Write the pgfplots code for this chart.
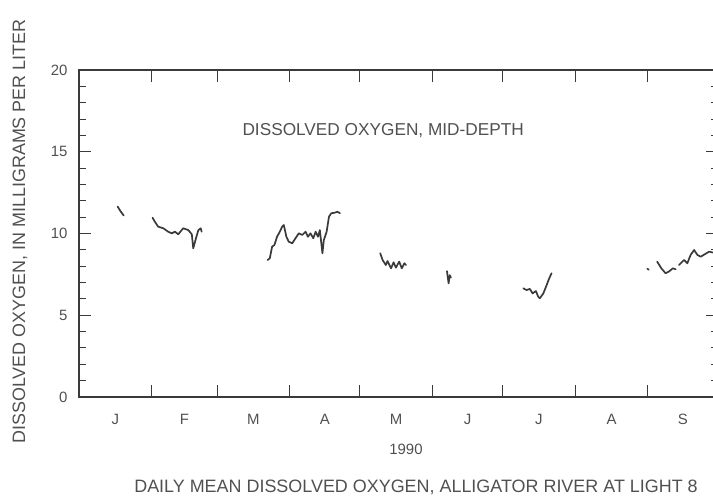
\documentclass[border=0pt]{standalone}
\usepackage{fontspec}
\setmainfont{Liberation Sans}
\usepackage{pgfplots}
\pgfplotsset{compat=1.18}
\definecolor{ink}{HTML}{3A3A3A}
\definecolor{txt}{HTML}{505050}

\begin{document}
\begin{tikzpicture}
  % page = 713 x 496 bp, axis box starts 79 bp from the left, 99 bp from the bottom
  \path[use as bounding box] (-79bp,-99bp) rectangle (634bp,397bp);
  \begin{axis}[
    name=ax, at={(0,0)}, anchor=south west,
    scale only axis, width=639bp, height=327bp,
    xmin=0, xmax=273, ymin=0, ymax=20,
    xtick={31,59,90,120,151,181,212,243},
    xticklabels={},
    xmajorticks=true, xtick pos=both, xtick align=inside,
    extra x ticks={15.5,45,74.5,105,135.5,166,196.5,227.5,258},
    extra x tick labels={J,F,M,A,M,J,J,A,S},
    extra x tick style={xtick style={draw=none}},
    ytick={0,5,10,15,20},
    minor y tick num=4,
    major tick length=12bp, minor tick length=7bp,
    xtick style={draw=ink, line width=1bp},
    ytick style={draw=ink, line width=1bp},
    axis line style={ink, line width=1.3bp},
    ticklabel style={font=\fontsize{15}{18}\selectfont, text=txt},
    /pgf/number format/assume math mode=true,
    xticklabel style={yshift=-14bp},
    yticklabel style={xshift=-8bp},
    clip mode=individual,
    every axis plot post/.append style={ink, solid, line width=1.7bp, line join=round, line cap=round, mark=none},
  ]
    % January
    \addplot coordinates {(16.5,11.65) (17.8,11.35) (19.1,11.1)};
    % February
    \addplot coordinates {
      (31.4,10.97) (32.4,10.72) (33.8,10.42) (36.0,10.32) (38.1,10.11)
      (39.6,10.01) (41.0,10.11) (42.4,9.95) (44.5,10.32) (46.7,10.21)
      (48.2,9.95) (48.8,9.09) (50.0,9.72) (51.0,10.21) (52.0,10.32) (52.4,10.11)};
    % March - April
    \addplot coordinates {
      (80.6,8.38) (81.5,8.48) (82.5,9.19) (83.5,9.30) (84.6,9.80)
      (85.8,10.11) (86.8,10.42) (87.5,10.52) (88.6,9.80) (89.6,9.50)
      (91.1,9.40) (92.5,9.71) (93.9,10.01) (95.4,9.91) (96.8,10.11)
      (97.8,9.80) (98.9,10.01) (100.1,9.71) (101.1,10.11) (102.1,9.80)
      (102.9,10.21) (104.0,8.79) (104.6,9.60) (105.8,10.11) (106.8,11.03)
      (107.8,11.24) (109.2,11.27) (110.4,11.33) (111.5,11.24)};
    % May
    \addplot coordinates {
      (128.7,8.79) (129.7,8.38) (131.1,8.07) (131.8,8.32) (133.3,7.87)
      (134.4,8.24) (135.4,7.91) (136.8,8.28) (137.9,7.87) (139.0,8.18) (139.7,8.07)};
    % June
    \addplot coordinates {(157.2,7.7) (157.9,6.95) (158.4,7.45) (158.9,7.3)};
    % July
    \addplot coordinates {
      (189.8,6.65) (191.2,6.54) (192.6,6.61) (193.8,6.34) (195.2,6.48)
      (196.2,6.13) (196.9,6.04) (198.4,6.34) (199.8,6.85) (200.9,7.26) (201.9,7.57)};
    % September
    \addplot coordinates {(242.8,7.85) (243.4,7.78)};
    \addplot coordinates {
      (247.0,8.28) (248.8,7.87) (250.6,7.57) (252.0,7.67) (253.7,7.87) (254.9,7.81)};
    \addplot coordinates {
      (256.3,8.07) (258.5,8.38) (259.9,8.18) (261.3,8.69) (262.8,8.99)
      (264.2,8.69) (265.6,8.58) (269.2,8.89) (271.9,8.80)};

    \node[font=\fontsize{17.3}{20}\selectfont, text=txt] at (rel axis cs:0.476,0.816)
      {DISSOLVED OXYGEN, MID-DEPTH};
  \end{axis}
  \node[font=\fontsize{18}{20}\selectfont, text=txt, rotate=90]
    at ([xshift=-59bp, yshift=2bp]ax.west) {DISSOLVED OXYGEN, IN MILLIGRAMS PER LITER};
  \node[font=\fontsize{15}{17}\selectfont, text=txt]
    at ([xshift=327bp, yshift=-52bp]ax.south west) {1990};
  \node[font=\fontsize{18}{20}\selectfont, text=txt]
    at ([xshift=337bp, yshift=-90bp]ax.south west) {DAILY MEAN DISSOLVED OXYGEN, ALLIGATOR RIVER AT LIGHT 8};
\end{tikzpicture}
\end{document}
